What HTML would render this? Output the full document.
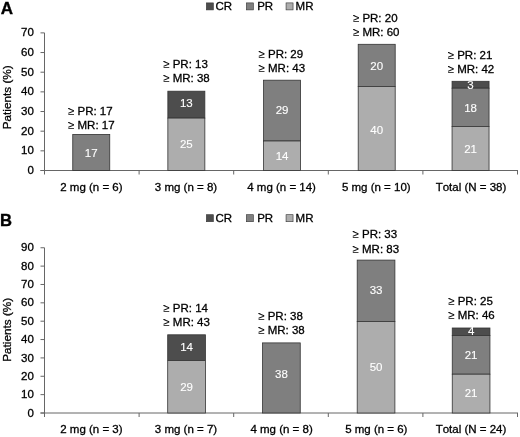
<!DOCTYPE html><html><head><meta charset="utf-8"><title>Chart</title><style>html,body{margin:0;padding:0;background:#fff}svg{display:block;will-change:transform}text{font-kerning:none;font-family:"Liberation Sans",Arial,sans-serif;fill:#000;stroke:#000;stroke-width:0.3}text.w{fill:#fff;stroke:#fff;stroke-width:0.12}</style></head><body>
<svg width="520" height="437" viewBox="0 0 520 437">
<rect width="520" height="437" fill="#fff"/>
<text x="0.8" y="13.9" font-size="17" font-weight="bold" style="stroke-width:0.35">A</text>
<rect x="206.35" y="2.9" width="7" height="7" fill="#4d4d4d" stroke="#333" stroke-width="0.6"/>
<text x="215.4" y="10.0" font-size="11.5">CR</text>
<rect x="246.35" y="2.9" width="7" height="7" fill="#7f7f7f" stroke="#333" stroke-width="0.6"/>
<text x="257.2" y="10.0" font-size="11.5">PR</text>
<rect x="286.05" y="2.9" width="7" height="7" fill="#adadad" stroke="#333" stroke-width="0.6"/>
<text x="295.6" y="10.0" font-size="11.5">MR</text>
<line x1="44.5" y1="32.879999999999995" x2="44.5" y2="174.5" stroke="#666" stroke-width="1"/>
<line x1="40.5" y1="170.5" x2="518" y2="170.5" stroke="#666" stroke-width="1"/>
<line x1="40.5" y1="170.50" x2="44.5" y2="170.50" stroke="#666" stroke-width="1"/>
<text x="33.9" y="174.10" font-size="11.5" text-anchor="end">0</text>
<line x1="40.5" y1="150.84" x2="44.5" y2="150.84" stroke="#666" stroke-width="1"/>
<text x="33.9" y="154.44" font-size="11.5" text-anchor="end">10</text>
<line x1="40.5" y1="131.18" x2="44.5" y2="131.18" stroke="#666" stroke-width="1"/>
<text x="33.9" y="134.78" font-size="11.5" text-anchor="end">20</text>
<line x1="40.5" y1="111.52" x2="44.5" y2="111.52" stroke="#666" stroke-width="1"/>
<text x="33.9" y="115.12" font-size="11.5" text-anchor="end">30</text>
<line x1="40.5" y1="91.86" x2="44.5" y2="91.86" stroke="#666" stroke-width="1"/>
<text x="33.9" y="95.46" font-size="11.5" text-anchor="end">40</text>
<line x1="40.5" y1="72.20" x2="44.5" y2="72.20" stroke="#666" stroke-width="1"/>
<text x="33.9" y="75.80" font-size="11.5" text-anchor="end">50</text>
<line x1="40.5" y1="52.54" x2="44.5" y2="52.54" stroke="#666" stroke-width="1"/>
<text x="33.9" y="56.14" font-size="11.5" text-anchor="end">60</text>
<line x1="40.5" y1="32.88" x2="44.5" y2="32.88" stroke="#666" stroke-width="1"/>
<text x="33.9" y="36.48" font-size="11.5" text-anchor="end">70</text>
<line x1="139.10" y1="170.5" x2="139.10" y2="174.5" stroke="#666" stroke-width="1"/>
<line x1="233.70" y1="170.5" x2="233.70" y2="174.5" stroke="#666" stroke-width="1"/>
<line x1="328.30" y1="170.5" x2="328.30" y2="174.5" stroke="#666" stroke-width="1"/>
<line x1="422.90" y1="170.5" x2="422.90" y2="174.5" stroke="#666" stroke-width="1"/>
<line x1="517.50" y1="170.5" x2="517.50" y2="174.5" stroke="#666" stroke-width="1"/>
<text x="91.40" y="190.9" font-size="11.5" text-anchor="middle">2 mg (n = 6)</text>
<text x="186.00" y="190.9" font-size="11.5" text-anchor="middle">3 mg (n = 8)</text>
<text x="281.60" y="190.9" font-size="11.5" text-anchor="middle">4 mg (n = 14)</text>
<text x="376.30" y="190.9" font-size="11.5" text-anchor="middle">5 mg (n = 10)</text>
<text x="471.00" y="190.9" font-size="11.5" text-anchor="middle">Total (N = 38)</text>
<text transform="translate(10.8,97.3) rotate(-90)" font-size="11.75" text-anchor="middle">Patients (%)</text>
<rect x="72.75" y="134.4" width="37.0" height="36.10" fill="#7f7f7f" stroke="#333" stroke-width="0.8"/>
<text class="w" x="91.25" y="156.85" font-size="11.5" text-anchor="middle">17</text>
<rect x="167.85" y="91.2" width="37.0" height="26.90" fill="#4d4d4d" stroke="#333" stroke-width="0.8"/>
<rect x="167.85" y="118.1" width="37.0" height="52.40" fill="#adadad" stroke="#333" stroke-width="0.8"/>
<text class="w" x="186.35" y="107.25" font-size="11.5" text-anchor="middle">13</text>
<text class="w" x="186.35" y="147.85" font-size="11.5" text-anchor="middle">25</text>
<rect x="263.55" y="80.2" width="37.0" height="60.80" fill="#7f7f7f" stroke="#333" stroke-width="0.8"/>
<rect x="263.55" y="141" width="37.0" height="29.50" fill="#adadad" stroke="#333" stroke-width="0.8"/>
<text class="w" x="282.05" y="114.25" font-size="11.5" text-anchor="middle">29</text>
<text class="w" x="282.05" y="160.25" font-size="11.5" text-anchor="middle">14</text>
<rect x="358.20" y="44.3" width="37.0" height="42.10" fill="#7f7f7f" stroke="#333" stroke-width="0.8"/>
<rect x="358.20" y="86.4" width="37.0" height="84.10" fill="#adadad" stroke="#333" stroke-width="0.8"/>
<text class="w" x="376.70" y="69.65" font-size="11.5" text-anchor="middle">20</text>
<text class="w" x="376.70" y="133.95" font-size="11.5" text-anchor="middle">40</text>
<rect x="452.05" y="81.3" width="37.0" height="6.90" fill="#4d4d4d" stroke="#333" stroke-width="0.8"/>
<rect x="452.05" y="88.2" width="37.0" height="38.20" fill="#7f7f7f" stroke="#333" stroke-width="0.8"/>
<rect x="452.05" y="126.4" width="37.0" height="44.10" fill="#adadad" stroke="#333" stroke-width="0.8"/>
<text class="w" x="470.55" y="88.55" font-size="11.5" text-anchor="middle">3</text>
<text class="w" x="470.55" y="112.15" font-size="11.5" text-anchor="middle">18</text>
<text class="w" x="470.55" y="153.25" font-size="11.5" text-anchor="middle">21</text>
<text x="68" y="115.2" font-size="11.5"><tspan style="stroke-width:0.05">≥</tspan> PR: 17</text>
<text x="68" y="129.3" font-size="11.5"><tspan style="stroke-width:0.05">≥</tspan> MR: 17</text>
<text x="163.2" y="68.3" font-size="11.5"><tspan style="stroke-width:0.05">≥</tspan> PR: 13</text>
<text x="163.2" y="82.4" font-size="11.5"><tspan style="stroke-width:0.05">≥</tspan> MR: 38</text>
<text x="258.5" y="57.9" font-size="11.5"><tspan style="stroke-width:0.05">≥</tspan> PR: 29</text>
<text x="258.5" y="72.0" font-size="11.5"><tspan style="stroke-width:0.05">≥</tspan> MR: 43</text>
<text x="352.9" y="21.5" font-size="11.5"><tspan style="stroke-width:0.05">≥</tspan> PR: 20</text>
<text x="352.9" y="35.6" font-size="11.5"><tspan style="stroke-width:0.05">≥</tspan> MR: 60</text>
<text x="447.7" y="59.2" font-size="11.5"><tspan style="stroke-width:0.05">≥</tspan> PR: 21</text>
<text x="447.7" y="73.3" font-size="11.5"><tspan style="stroke-width:0.05">≥</tspan> MR: 42</text>
<text x="0.1" y="225.7" font-size="16.6" font-weight="bold" style="stroke-width:0.35">B</text>
<rect x="206.35" y="214.7" width="7" height="7" fill="#4d4d4d" stroke="#333" stroke-width="0.6"/>
<text x="215.4" y="221.79999999999998" font-size="11.5">CR</text>
<rect x="246.35" y="214.7" width="7" height="7" fill="#7f7f7f" stroke="#333" stroke-width="0.6"/>
<text x="257.2" y="221.79999999999998" font-size="11.5">PR</text>
<rect x="286.05" y="214.7" width="7" height="7" fill="#adadad" stroke="#333" stroke-width="0.6"/>
<text x="295.6" y="221.79999999999998" font-size="11.5">MR</text>
<line x1="44.5" y1="247.76" x2="44.5" y2="417.0" stroke="#666" stroke-width="1"/>
<line x1="40.5" y1="413.0" x2="518" y2="413.0" stroke="#666" stroke-width="1"/>
<line x1="40.5" y1="413.00" x2="44.5" y2="413.00" stroke="#666" stroke-width="1"/>
<text x="33.9" y="416.60" font-size="11.5" text-anchor="end">0</text>
<line x1="40.5" y1="394.64" x2="44.5" y2="394.64" stroke="#666" stroke-width="1"/>
<text x="33.9" y="398.24" font-size="11.5" text-anchor="end">10</text>
<line x1="40.5" y1="376.28" x2="44.5" y2="376.28" stroke="#666" stroke-width="1"/>
<text x="33.9" y="379.88" font-size="11.5" text-anchor="end">20</text>
<line x1="40.5" y1="357.92" x2="44.5" y2="357.92" stroke="#666" stroke-width="1"/>
<text x="33.9" y="361.52" font-size="11.5" text-anchor="end">30</text>
<line x1="40.5" y1="339.56" x2="44.5" y2="339.56" stroke="#666" stroke-width="1"/>
<text x="33.9" y="343.16" font-size="11.5" text-anchor="end">40</text>
<line x1="40.5" y1="321.20" x2="44.5" y2="321.20" stroke="#666" stroke-width="1"/>
<text x="33.9" y="324.80" font-size="11.5" text-anchor="end">50</text>
<line x1="40.5" y1="302.84" x2="44.5" y2="302.84" stroke="#666" stroke-width="1"/>
<text x="33.9" y="306.44" font-size="11.5" text-anchor="end">60</text>
<line x1="40.5" y1="284.48" x2="44.5" y2="284.48" stroke="#666" stroke-width="1"/>
<text x="33.9" y="288.08" font-size="11.5" text-anchor="end">70</text>
<line x1="40.5" y1="266.12" x2="44.5" y2="266.12" stroke="#666" stroke-width="1"/>
<text x="33.9" y="269.72" font-size="11.5" text-anchor="end">80</text>
<line x1="40.5" y1="247.76" x2="44.5" y2="247.76" stroke="#666" stroke-width="1"/>
<text x="33.9" y="251.36" font-size="11.5" text-anchor="end">90</text>
<line x1="139.10" y1="413.0" x2="139.10" y2="417.0" stroke="#666" stroke-width="1"/>
<line x1="233.70" y1="413.0" x2="233.70" y2="417.0" stroke="#666" stroke-width="1"/>
<line x1="328.30" y1="413.0" x2="328.30" y2="417.0" stroke="#666" stroke-width="1"/>
<line x1="422.90" y1="413.0" x2="422.90" y2="417.0" stroke="#666" stroke-width="1"/>
<line x1="517.50" y1="413.0" x2="517.50" y2="417.0" stroke="#666" stroke-width="1"/>
<text x="91.40" y="433.0" font-size="11.5" text-anchor="middle">2 mg (n = 3)</text>
<text x="186.00" y="433.0" font-size="11.5" text-anchor="middle">3 mg (n = 7)</text>
<text x="281.60" y="433.0" font-size="11.5" text-anchor="middle">4 mg (n = 8)</text>
<text x="376.30" y="433.0" font-size="11.5" text-anchor="middle">5 mg (n = 6)</text>
<text x="471.00" y="433.0" font-size="11.5" text-anchor="middle">Total (N = 24)</text>
<text transform="translate(10.8,329.8) rotate(-90)" font-size="11.75" text-anchor="middle">Patients (%)</text>
<rect x="167.70" y="334.8" width="37.7" height="25.80" fill="#4d4d4d" stroke="#333" stroke-width="0.8"/>
<rect x="167.70" y="360.6" width="37.7" height="52.40" fill="#adadad" stroke="#333" stroke-width="0.8"/>
<text class="w" x="186.55" y="351.05" font-size="11.5" text-anchor="middle">14</text>
<text class="w" x="186.55" y="390.75" font-size="11.5" text-anchor="middle">29</text>
<rect x="262.55" y="342.9" width="37.7" height="70.10" fill="#7f7f7f" stroke="#333" stroke-width="0.8"/>
<text class="w" x="281.40" y="377.65" font-size="11.5" text-anchor="middle">38</text>
<rect x="357.20" y="260.1" width="37.7" height="61.40" fill="#7f7f7f" stroke="#333" stroke-width="0.8"/>
<rect x="357.20" y="321.5" width="37.7" height="91.50" fill="#adadad" stroke="#333" stroke-width="0.8"/>
<text class="w" x="376.05" y="294.15" font-size="11.5" text-anchor="middle">33</text>
<text class="w" x="376.05" y="370.95" font-size="11.5" text-anchor="middle">50</text>
<rect x="452.25" y="328.0" width="37.7" height="7.50" fill="#4d4d4d" stroke="#333" stroke-width="0.8"/>
<rect x="452.25" y="335.5" width="37.7" height="38.70" fill="#7f7f7f" stroke="#333" stroke-width="0.8"/>
<rect x="452.25" y="374.2" width="37.7" height="38.80" fill="#adadad" stroke="#333" stroke-width="0.8"/>
<text class="w" x="471.10" y="335.05" font-size="11.5" text-anchor="middle">4</text>
<text class="w" x="471.10" y="359.35" font-size="11.5" text-anchor="middle">21</text>
<text class="w" x="471.10" y="397.35" font-size="11.5" text-anchor="middle">21</text>
<text x="163.3" y="311.6" font-size="11.5"><tspan style="stroke-width:0.05">≥</tspan> PR: 14</text>
<text x="163.3" y="325.7" font-size="11.5"><tspan style="stroke-width:0.05">≥</tspan> MR: 43</text>
<text x="258.2" y="319.6" font-size="11.5"><tspan style="stroke-width:0.05">≥</tspan> PR: 38</text>
<text x="258.2" y="333.7" font-size="11.5"><tspan style="stroke-width:0.05">≥</tspan> MR: 38</text>
<text x="352.5" y="238.4" font-size="11.5"><tspan style="stroke-width:0.05">≥</tspan> PR: 33</text>
<text x="352.5" y="252.5" font-size="11.5"><tspan style="stroke-width:0.05">≥</tspan> MR: 83</text>
<text x="448.2" y="304.9" font-size="11.5"><tspan style="stroke-width:0.05">≥</tspan> PR: 25</text>
<text x="448.2" y="319.0" font-size="11.5"><tspan style="stroke-width:0.05">≥</tspan> MR: 46</text>
</svg></body></html>
